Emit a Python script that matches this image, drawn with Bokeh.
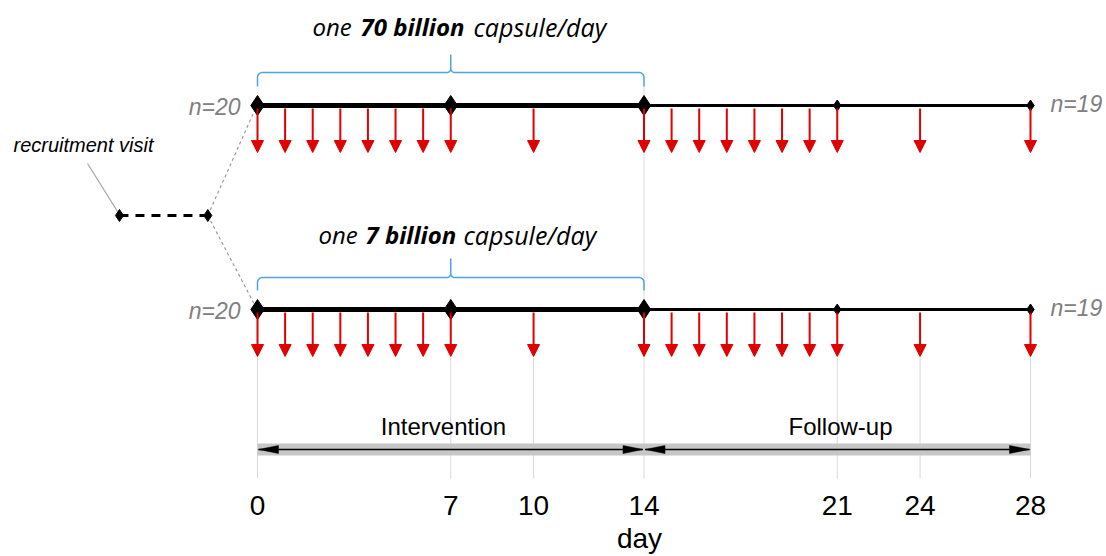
import numpy as np
from bokeh.plotting import figure
from bokeh.models import Range1d, ColumnDataSource, Arrow, NormalHead
from bokeh.core.properties import value
from bokeh.embed import file_html
from bokeh.resources import INLINE

# ---------------- data ----------------
ARMS = ["70", "7"]                      # billion CFU per capsule
ARM_N_START = [20, 20]
ARM_N_END = [19, 19]
TICK_DAYS = [0, 7, 10, 14, 21, 24, 28]
SAMPLE_DAYS = [0, 1, 2, 3, 4, 5, 6, 7, 10, 14, 15, 16, 17, 18, 19, 20, 21, 24, 28]
MAJOR_VISITS = [0, 7, 14]
MINOR_VISITS = [21, 28]
RECRUIT_DAYS = [-5.0, -1.8]
PHASES = ["Intervention", "Follow-up"]
PHASE_START = [0, 14]
PHASE_END = [14, 28]

# ---------------- layout ----------------
W, H = 1106, 556
PAGE_DAY0, PAGE_DAY28 = 257, 1030
PPD = (PAGE_DAY28 - PAGE_DAY0) / 28.0      # pixels per day


def px(page_x):
    return (page_x - PAGE_DAY0) / PPD


def dpx(n):
    return n / PPD


ROW_Y = [105, 309]
BRACKET_H = [72, 277]
BRACKET_END = [86, 290]
BRACKET_PEAK = [54, 258]
LABEL_MID = [26, 234]
LABEL_X = [(312, 360, 473), (318, 365, 463)]
RECRUIT_Y = 215
BAR_Y = 449

RED = "#e00000"
BLUE = "#4fa3e0"
GRAY_TXT = "#808080"
SANS = value("Liberation Sans")
OPEN = value("Open Sans")

p = figure(width=W, height=H, output_backend="svg", toolbar_location=None,
           x_range=Range1d(-PAGE_DAY0 / PPD, (W - PAGE_DAY0) / PPD),
           y_range=Range1d(H, 0), min_border=0)
p.axis.visible = False
p.grid.visible = False
p.outline_line_color = None
p.background_fill_color = "white"

# guide lines
g0 = [85 if d == 14 else 357 for d in TICK_DAYS]
p.segment(x0=TICK_DAYS, y0=g0, x1=TICK_DAYS, y1=[478] * len(TICK_DAYS),
          line_color="#d9d9d9", line_width=1)

# recruitment
for ry in ROW_Y:
    p.line([RECRUIT_DAYS[1], px(255)], [RECRUIT_Y, ry + (3 if ry == ROW_Y[0] else -3)],
           line_color="#9a9a9a", line_width=1.2, line_dash="3 3")
p.line([px(87), px(117)], [163, 211], line_color="#a6a6a6", line_width=1.2)
p.line(RECRUIT_DAYS, [RECRUIT_Y] * 2, line_color="black", line_width=3, line_dash="9 7")
p.scatter(RECRUIT_DAYS, [RECRUIT_Y] * 2, marker="diamond", size=12, color="black")
p.text(x=[px(13)], y=[144], text=["recruitment visit"], text_font=SANS,
       text_font_size="20px", text_font_style="italic", text_color="black",
       text_baseline="middle", text_align="left")


def bracket_path(x0, x1, yh, yend, ypeak, r=5.0, rm=4.0):
    xm = (x0 + x1) / 2.0
    rx, rmx = dpx(r), dpx(rm)
    t = np.linspace(0, np.pi / 2, 9)
    xs = [x0]
    ys = [yend]
    xs += list(x0 + rx - rx * np.cos(t)); ys += list(yh + r - r * np.sin(t))
    xs += list(xm - rmx + rmx * np.sin(t)); ys += list(yh - rm + rm * np.cos(t))
    xs += [xm]; ys += [ypeak]
    xs += list(xm + rmx - rmx * np.cos(t)); ys += list(yh - rm + rm * np.sin(t))
    xs += list(x1 - rx + rx * np.sin(t)); ys += list(yh + r - r * np.cos(t))
    xs += [x1]; ys += [yend]
    return xs, ys


for i, arm in enumerate(ARMS):
    y = ROW_Y[i]
    # bracket
    bx, by = bracket_path(PHASE_START[0], PHASE_END[0], BRACKET_H[i], BRACKET_END[i], BRACKET_PEAK[i])
    p.line(bx, by, line_color=BLUE, line_width=1.5)
    # bracket label
    lx = LABEL_X[i]
    p.text(x=[px(lx[0])], y=[LABEL_MID[i]], text=["one"], text_font=OPEN,
           text_font_size="24px", text_font_style="italic", text_color="black",
           text_baseline="middle", text_align="left")
    p.text(x=[px(lx[1])], y=[LABEL_MID[i]], text=[f"{arm} billion"], text_font=OPEN,
           text_font_size="24px", text_font_style="bold italic", text_color="black",
           text_baseline="middle", text_align="left")
    p.text(x=[px(lx[2])], y=[LABEL_MID[i]], text=["capsule/day"], text_font=OPEN,
           text_font_size="25px", text_font_style="italic", text_color="black",
           text_baseline="middle", text_align="left")
    # timeline
    p.line([PHASE_START[0], PHASE_END[0]], [y, y], line_color="black", line_width=5)
    p.line([PHASE_START[1], PHASE_END[1]], [y, y], line_color="black", line_width=3)
    # sampling arrows
    src = ColumnDataSource(dict(x=SAMPLE_DAYS, y0=[y + 3] * len(SAMPLE_DAYS),
                                y1=[y + 47] * len(SAMPLE_DAYS)))
    p.add_layout(Arrow(source=src, x_start="x", y_start="y0", x_end="x", y_end="y1",
                       line_color=RED, line_width=2,
                       end=NormalHead(size=12, fill_color=RED, line_color=RED, line_width=1)))
    # visits
    p.scatter(MAJOR_VISITS, [y] * len(MAJOR_VISITS), marker="diamond", size=20, color="black")
    p.scatter(MINOR_VISITS, [y] * len(MINOR_VISITS), marker="diamond", size=11, color="black")
    # n labels
    p.text(x=[px(240)], y=[y + 1.5], text=[f"n={ARM_N_START[i]}"], text_font=SANS,
           text_font_size="23px", text_font_style="italic", text_color=GRAY_TXT,
           text_baseline="middle", text_align="right")
    p.text(x=[px(1050)], y=[y - 1.5], text=[f"n={ARM_N_END[i]}"], text_font=SANS,
           text_font_size="23px", text_font_style="italic", text_color=GRAY_TXT,
           text_baseline="middle", text_align="left")

# phase bar
p.quad(left=[PHASE_START[0]], right=[PHASE_END[-1]], top=[BAR_Y - 6], bottom=[BAR_Y + 6],
       fill_color="#c6c6c6", line_color=None)
gap = dpx(1)
hl = dpx(20)
p.segment(x0=[s + gap for s in PHASE_START], y0=[BAR_Y] * 2,
          x1=[e - gap for e in PHASE_END], y1=[BAR_Y] * 2, line_color="black", line_width=1.5)
hx, hy = [], []
for s, e in zip(PHASE_START, PHASE_END):
    a, b = s + gap, e - gap
    hx.append([a, a + hl, a + hl]); hy.append([BAR_Y, BAR_Y - 4, BAR_Y + 4])
    hx.append([b, b - hl, b - hl]); hy.append([BAR_Y, BAR_Y - 4, BAR_Y + 4])
p.patches(hx, hy, fill_color="black", line_color="black", line_width=0.5)
phase_cx = [px(443), px(840)]
p.text(x=phase_cx, y=[425.5, 425.5], text=PHASES, text_font=SANS, text_font_size="24px",
       text_color="black", text_baseline="middle", text_align="center")

# tick labels and axis title
p.text(x=TICK_DAYS, y=[505] * len(TICK_DAYS), text=[str(d) for d in TICK_DAYS],
       text_font=SANS, text_font_size="28px", text_color="black",
       text_baseline="middle", text_align="center")
p.text(x=[px(639)], y=[538], text=["day"], text_font=SANS, text_font_size="28px",
       text_color="black", text_baseline="middle", text_align="center")

open("out.html", "w").write(file_html(p, INLINE))
